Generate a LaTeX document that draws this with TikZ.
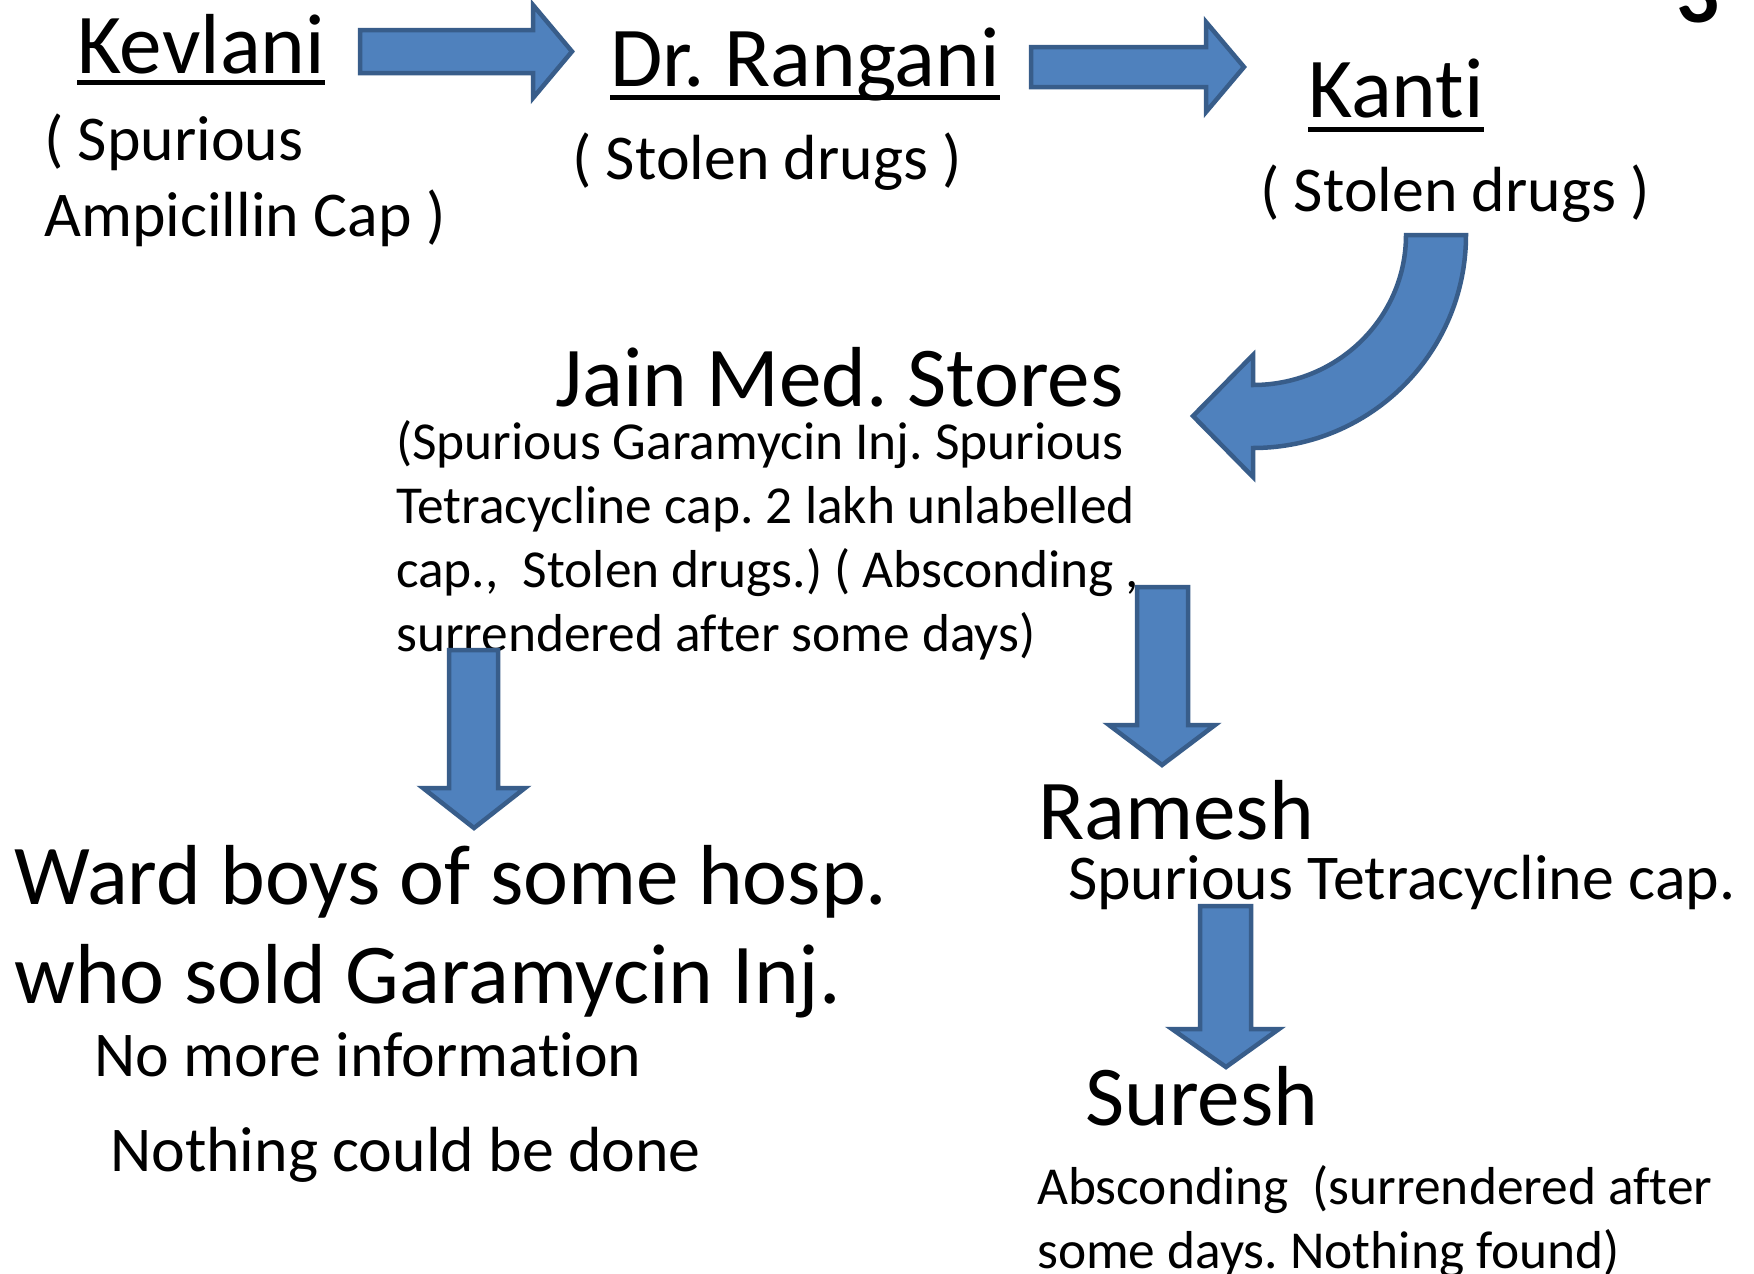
\documentclass[tikz,border=0pt]{standalone}
\usepackage{fontspec}
\setmainfont{Carlito}[Ligatures={NoCommon}]
\definecolor{arrfill}{HTML}{4F81BD}
\definecolor{arrline}{HTML}{385D8A}
\frenchspacing
\begin{document}
\begin{tikzpicture}[x=1pt,y=-1pt,
  big/.style={inner sep=0pt, anchor=base west, align=left, font=\fontsize{85.2}{99}\selectfont},
  mid/.style={inner sep=0pt, anchor=base west, align=left, font=\fontsize{63.8}{76}\selectfont},
  small/.style={inner sep=0pt, anchor=base west, align=left, font=\fontsize{53.4}{64}\selectfont},
  blk/.style={fill=arrfill, draw=arrline, line width=4.5pt, line join=miter},
  uline/.style={line width=5pt}]
\useasboundingbox[fill=white] (0,0) rectangle (1754,1274);

% top row
\node[big] (kev) at (77,73) {Kevlani};
\draw[uline] ([yshift=-9pt]kev.base west) -- ([yshift=-9pt]kev.base east);
\node[mid] (kevnote) at (44,236) {( Spurious\\Ampicillin Cap )};

\node[big] (ran) at (610,86) {Dr. Rangani};
\draw[uline] ([yshift=-11pt]ran.base west) -- ([yshift=-11pt]ran.base east);
\node[mid] (rannote) at (572,179) {( Stolen drugs )};

\node[big] (kan) at (1308,117) {Kanti};
\draw[uline] ([yshift=-12pt]kan.base west) -- ([yshift=-12pt]kan.base east);
\node[mid] (kannote) at (1260,211) {( Stolen drugs )};

\node[big, font=\fontsize{85.2}{99}\selectfont\bfseries] (three) at (1676,22) {3};

% horizontal block arrows
\draw[blk] (360,30) -- (533,30) -- (533,5) -- (572,51.5) -- (533,98) -- (533,73) -- (360,73) -- cycle;
\draw[blk] (1031,47) -- (1206,47) -- (1206,22) -- (1244,67) -- (1206,112) -- (1206,87) -- (1031,87) -- cycle;

% curved arrow
\draw[blk] (1406,235) -- (1466,235) arc[start angle=0, end angle=-90, radius=213pt]
  -- (1253,477) -- (1193,416) -- (1253,355) -- (1253,385)
  arc[start angle=-90, end angle=0, x radius=153pt, y radius=150pt] -- cycle;

% Jain
\node[big] (jain) at (555,406) {Jain Med. Stores};
\node[small] (jainnote) at (396,651) {(Spurious Garamycin Inj. Spurious\\Tetracycline cap. 2 lakh unlabelled\\cap.,\ \ Stolen drugs.) ( Absconding ,\\surrendered after some days)};

% down arrows
\draw[blk] (449,650) -- (498,650) -- (498,788) -- (525,788) -- (474,828) -- (423,788) -- (449,788) -- cycle;
\draw[blk] (1137,587) -- (1188,587) -- (1188,725) -- (1215,725) -- (1162,765) -- (1109,725) -- (1137,725) -- cycle;
\draw[blk] (1200,906) -- (1251,906) -- (1251,1029) -- (1279,1029) -- (1226,1067) -- (1172,1029) -- (1200,1029) -- cycle;

% ward boys
\node[big] (ward) at (14,1003) {Ward boys of some hosp.\\who sold Garamycin Inj.};
\node[mid] (nomore) at (94,1076) {No more information};
\node[mid] (nothing) at (110,1171) {Nothing could be done};

% Ramesh, Suresh
\node[big] (ram) at (1038,839) {Ramesh};
\node[mid] (ramnote) at (1068,899) {Spurious Tetracycline cap.};
\node[big] (sur) at (1085,1125) {Suresh};
\node[small] (surnote) at (1037,1268) {Absconding\ \ (surrendered after\\some days. Nothing found)};
\end{tikzpicture}
\end{document}
